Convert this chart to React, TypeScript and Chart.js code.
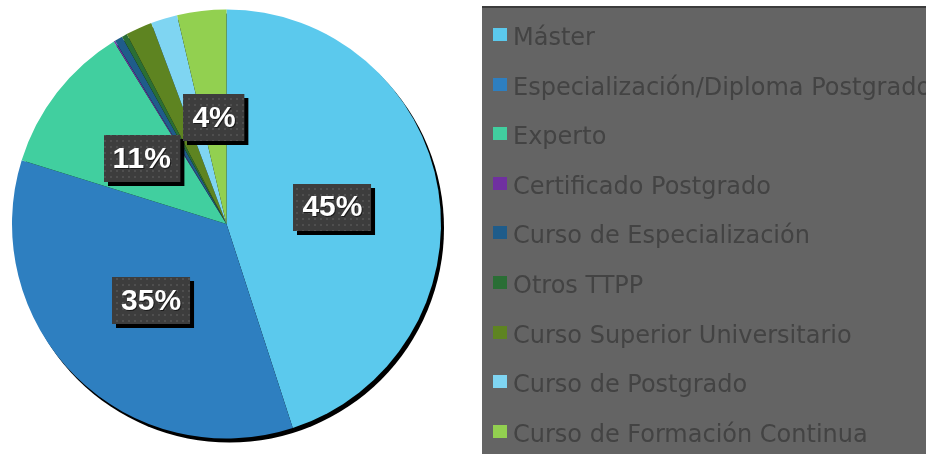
import React, { useEffect, useRef } from "react";
import { Chart, registerables } from "chart.js";

Chart.register(...registerables);

const categories = [
  "Máster",
  "Especialización/Diploma Postgrado",
  "Experto",
  "Certificado Postgrado",
  "Curso de Especialización",
  "Otros TTPP",
  "Curso Superior Universitario",
  "Curso de Postgrado",
  "Curso de Formación Continua",
];
const shares = [45.0, 34.8, 11.4, 0.1, 0.6, 0.4, 2.0, 2.0, 3.7];
const sliceColors = [
  "#5bc9ed",
  "#2e7fc0",
  "#41cf9f",
  "#7030a0",
  "#1f5c8a",
  "#2a6e35",
  "#5e8421",
  "#7fd5f2",
  "#92d050",
];
const labelThreshold = 3;

const W = 926;
const H = 454;

function makeDotPattern(ctx: CanvasRenderingContext2D) {
  const c = document.createElement("canvas");
  c.width = 6;
  c.height = 6;
  const g = c.getContext("2d")!;
  g.fillStyle = "#3d3d3d";
  g.fillRect(0, 0, 6, 6);
  g.fillStyle = "#4f4f4f";
  g.fillRect(2, 2, 2, 2);
  return ctx.createPattern(c, "repeat");
}

const pieShadow = {
  id: "pieShadow",
  beforeDatasetsDraw(chart: any) {
    const meta = chart.getDatasetMeta(0);
    const arc = meta.data[0];
    if (!arc) return;
    const { x, y, outerRadius } = arc.getProps(["x", "y", "outerRadius"], true);
    const ctx = chart.ctx;
    ctx.save();
    ctx.fillStyle = "#000000";
    ctx.beginPath();
    ctx.arc(x + 3, y + 4, outerRadius, 0, Math.PI * 2);
    ctx.fill();
    ctx.restore();
  },
};

const sliceLabels = {
  id: "sliceLabels",
  afterDatasetsDraw(chart: any) {
    const ctx: CanvasRenderingContext2D = chart.ctx;
    const meta = chart.getDatasetMeta(0);
    const data = chart.data.datasets[0].data as number[];
    const total = data.reduce((a, b) => a + b, 0);
    const pattern = makeDotPattern(ctx);
    ctx.save();
    ctx.font = "bold 30px 'Liberation Sans', Arial, sans-serif";
    ctx.textAlign = "center";
    ctx.textBaseline = "middle";
    meta.data.forEach((arc: any, i: number) => {
      const pct = (data[i] / total) * 100;
      if (pct < labelThreshold) return;
      const text = Math.round(pct) + "%";
      const p = arc.tooltipPosition(true);
      const tw = ctx.measureText(text).width;
      const bw = tw + 18;
      const bh = 47;
      const bx = Math.round(p.x - bw / 2);
      const by = Math.round(p.y - bh / 2);
      ctx.fillStyle = "#000000";
      ctx.fillRect(bx + 4, by + 4, bw, bh);
      ctx.fillStyle = pattern || "#3d3d3d";
      ctx.fillRect(bx, by, bw, bh);
      ctx.fillStyle = "#1a1a1a";
      ctx.fillText(text, p.x + 1, p.y + 2);
      ctx.fillStyle = "#ffffff";
      ctx.fillText(text, p.x, p.y + 1);
    });
    ctx.restore();
  },
};

const legendPanel = {
  id: "legendPanel",
  afterDraw(chart: any) {
    const ctx: CanvasRenderingContext2D = chart.ctx;
    const ds = chart.data.datasets[0];
    const left = 482;
    const top = 6;
    ctx.save();
    ctx.fillStyle = "#646464";
    ctx.fillRect(left, top, W - left, H - top);
    ctx.fillStyle = "#3c3c3c";
    ctx.fillRect(left, top, W - left, 2);
    ctx.font = "24px 'DejaVu Sans', sans-serif";
    ctx.textAlign = "left";
    ctx.textBaseline = "alphabetic";
    const labels = chart.data.labels as string[];
    labels.forEach((lab, i) => {
      const cy = 34.5 + i * 49.6;
      ctx.fillStyle = (ds.backgroundColor as string[])[i];
      ctx.fillRect(493, Math.round(cy - 6.5), 14, 13);
      ctx.fillStyle = "#434343";
      ctx.fillText(lab, 513, cy + 10.5);
    });
    ctx.restore();
  },
};

export default function App() {
  const ref = useRef<HTMLCanvasElement | null>(null);
  useEffect(() => {
    if (!ref.current) return;
    const chart = new Chart(ref.current, {
      type: "pie",
      data: {
        labels: categories,
        datasets: [
          {
            data: shares,
            backgroundColor: sliceColors,
            borderWidth: 0,
          },
        ],
      },
      options: {
        responsive: false,
        animation: false,
        events: [],
        layout: { padding: { left: 12, right: W - 441, top: 8, bottom: H - 440 } },
        plugins: {
          legend: { display: false },
          tooltip: { enabled: false },
          title: { display: false },
        },
      },
      plugins: [pieShadow, sliceLabels, legendPanel],
    });
    return () => chart.destroy();
  }, []);
  return (
    <div style={{ position: "absolute", left: 0, top: 0, width: W, height: H, background: "#ffffff" }}>
      <canvas ref={ref} width={W} height={H} />
    </div>
  );
}
